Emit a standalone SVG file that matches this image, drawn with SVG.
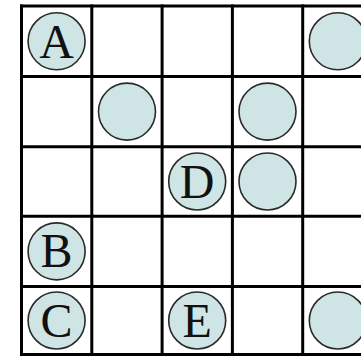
<svg xmlns="http://www.w3.org/2000/svg" width="361" height="357" viewBox="0 0 361 357">
  <style>
    .grid line { stroke: #000; stroke-width: 3; stroke-linecap: square; }
    .disc { fill: #cfe4e4; stroke: #2a2a2a; stroke-width: 1.6; }
    .lbl { font-family: "Liberation Serif", "DejaVu Serif", serif; font-size: 48px; fill: #111; text-anchor: middle; }
  </style>
  <rect x="0" y="0" width="361" height="357" fill="#fff"/>
  <g id="grid" class="grid">
    <line x1="21.5" y1="6" x2="21.5" y2="354.5"/>
    <line x1="91.8" y1="6" x2="91.8" y2="354.5"/>
    <line x1="162.1" y1="6" x2="162.1" y2="354.5"/>
    <line x1="232.4" y1="6" x2="232.4" y2="354.5"/>
    <line x1="302.7" y1="6" x2="302.7" y2="354.5"/>
    <line x1="373" y1="6" x2="373" y2="354.5"/>
    <line x1="21.5" y1="6" x2="373" y2="6"/>
    <line x1="21.5" y1="76.5" x2="373" y2="76.5"/>
    <line x1="21.5" y1="146.7" x2="373" y2="146.7"/>
    <line x1="21.5" y1="216.3" x2="373" y2="216.3"/>
    <line x1="21.5" y1="286.5" x2="373" y2="286.5"/>
    <line x1="21.5" y1="354.5" x2="373" y2="354.5"/>
  </g>
  <g id="connectors"></g>
  <g id="node-A"><circle class="disc" cx="56.6" cy="41.3" r="28.5"/><text class="lbl" x="56.6" y="57.5">A</text></g>
  <g id="node-r1c5"><circle class="disc" cx="337.8" cy="41.3" r="28.5"/></g>
  <g id="node-r2c2"><circle class="disc" cx="127" cy="111.6" r="28.5"/></g>
  <g id="node-r2c4"><circle class="disc" cx="267.5" cy="111.6" r="28.5"/></g>
  <g id="node-D"><circle class="disc" cx="197.2" cy="181.5" r="28.5"/><text class="lbl" x="197.2" y="197.5">D</text></g>
  <g id="node-r3c4"><circle class="disc" cx="267.5" cy="181.5" r="28.5"/></g>
  <g id="node-B"><circle class="disc" cx="56.6" cy="251.4" r="28.5"/><text class="lbl" x="56.6" y="267.4">B</text></g>
  <g id="node-C"><circle class="disc" cx="56.6" cy="320.5" r="28.5"/><text class="lbl" x="56.6" y="336.5">C</text></g>
  <g id="node-E"><circle class="disc" cx="197.2" cy="320.5" r="28.5"/><text class="lbl" x="197.2" y="336.5">E</text></g>
  <g id="node-r5c5"><circle class="disc" cx="337.8" cy="320.5" r="28.5"/></g>
</svg>
